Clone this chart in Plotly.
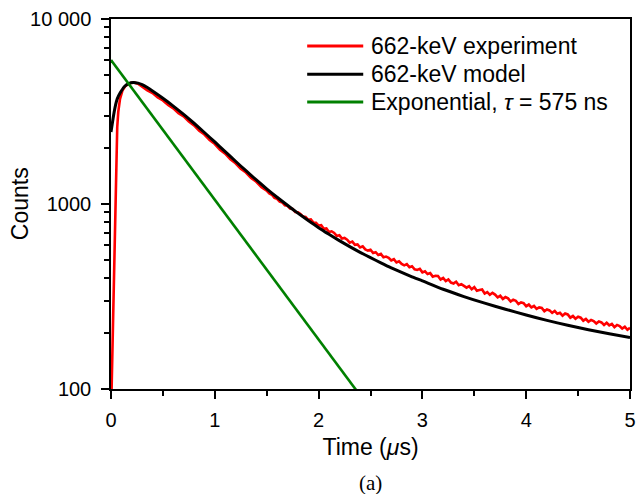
import numpy as np
import plotly.graph_objects as go

# --- measured decay (662-keV experiment) ---
# rise and early decay, irregular sampling
exp_time_head = [0.005, 0.010, 0.015, 0.022, 0.030, 0.040, 0.048, 0.055, 0.060, 0.070,
                 0.087, 0.110, 0.140, 0.180, 0.220, 0.260,
                 0.30, 0.35, 0.40, 0.45, 0.50, 0.55, 0.60, 0.65, 0.70, 0.75,
                 0.80, 0.85, 0.90, 0.95, 1.00, 1.05, 1.10, 1.15, 1.20, 1.25,
                 1.30, 1.35, 1.40, 1.45, 1.50]
exp_counts_head = [95, 130, 180, 300, 500, 900, 1700, 2200, 2600, 3150,
                   3700, 4100, 4350, 4490, 4540, 4470,
                   4300, 4110, 3975, 3770, 3630, 3430, 3290, 3100, 2975, 2790,
                   2660, 2490, 2375, 2215, 2110, 1965, 1872, 1745, 1660, 1550,
                   1480, 1382, 1318, 1232, 1182]
# tail, one bin every 25 ns from 1.525 us to 5 us
exp_time_tail = [round(1.5 + 0.025 * k, 3) for k in range(1, 141)]
exp_counts_tail = [1140, 1122, 1080, 1066, 1030, 1020, 985, 978, 944, 940,
                   906, 903, 884, 855, 852, 822, 826, 793, 791, 764,
                   768, 735, 738, 706, 712, 697, 672, 678, 650, 655,
                   641, 618, 626, 602, 605, 582, 590, 568, 560, 566,
                   543, 549, 530, 537, 515, 520, 512, 496, 503, 483,
                   490, 474, 466, 473, 455, 461, 444, 440, 446, 427,
                   433, 418, 423, 405, 409, 408, 391, 398, 383, 391,
                   376, 372, 380, 364, 369, 361, 353, 360, 346, 355,
                   340, 343, 345, 328, 334, 323, 331, 324, 313, 319,
                   307, 314, 309, 297, 304, 300, 288, 294, 291, 280,
                   286, 276, 281, 271, 276, 274, 263, 269, 266, 258,
                   264, 255, 258, 249, 256, 253, 243, 248, 240, 246,
                   243, 234, 239, 231, 236, 233, 226, 232, 229, 222,
                   228, 221, 225, 216, 222, 219, 212, 217, 209, 214]
exp_time = exp_time_head + exp_time_tail
exp_counts = exp_counts_head + exp_counts_tail

# --- model curve (662-keV model) ---
model_time = [0.0, 0.02, 0.04, 0.06, 0.09, 0.13, 0.17, 0.215, 0.26, 0.30,
              0.35, 0.40, 0.50, 0.60, 0.70, 0.80, 0.90, 1.00, 1.10, 1.20,
              1.30, 1.40, 1.50, 1.60, 1.70, 1.80, 1.90, 2.00, 2.10, 2.20,
              2.30, 2.40, 2.50, 2.60, 2.70, 2.80, 2.90, 3.00, 3.20, 3.40,
              3.60, 3.80, 4.00, 4.20, 4.40, 4.60, 4.80, 5.00]
model_counts = [2450, 2900, 3350, 3700, 4000, 4320, 4480, 4540, 4500, 4420,
                4260, 4080, 3729, 3384, 3050, 2732, 2435, 2164, 1919, 1702,
                1513, 1349, 1208, 1088, 984, 893, 814, 745, 686, 634,
                588, 548, 513, 481, 452, 427, 404, 384, 346, 316,
                291, 270, 251, 235, 221, 209, 199, 190]

# --- single-exponential reference ---
tau_ns = 575
amplitude = 6000
fit_time = np.array([0.0, 2.5])
fit_counts = amplitude * np.exp(-fit_time * 1000 / tau_ns)

y_tickvals = [100, 1000, 10000]
y_ticktext = ["100", "1000", "10 000"]
y_minor = [200, 300, 400, 500, 600, 700, 800, 900,
           2000, 3000, 4000, 5000, 6000, 7000, 8000, 9000]
x_tickvals = [0, 1, 2, 3, 4, 5]
x_minor = [0.5, 1.5, 2.5, 3.5, 4.5]

series_names = ["662-keV experiment", "662-keV model", "Exponential, <i>τ</i> = 575 ns"]
series_colors = ["#ff0000", "#000000", "#008000"]

font_family = "Liberation Sans, Arial, sans-serif"

fig = go.Figure()
fig.add_trace(go.Scatter(x=exp_time, y=exp_counts, mode="lines",
                         line=dict(color=series_colors[0], width=2.6),
                         name=series_names[0]))
fig.add_trace(go.Scatter(x=model_time, y=model_counts, mode="lines",
                         line=dict(color=series_colors[1], width=3, shape="spline", smoothing=0.6),
                         name=series_names[1]))
fig.add_trace(go.Scatter(x=fit_time, y=fit_counts, mode="lines",
                         line=dict(color=series_colors[2], width=2.6),
                         name=series_names[2]))

# hand-built legend in the upper right
legend_rows = [0.927, 0.851, 0.776]
for name, color, yy in zip(series_names, series_colors, legend_rows):
    fig.add_shape(type="line", xref="paper", yref="paper",
                  x0=0.378, x1=0.486, y0=yy, y1=yy,
                  line=dict(color=color, width=3))
    fig.add_annotation(xref="paper", yref="paper", x=0.497, y=yy,
                       xanchor="left", yanchor="middle", showarrow=False,
                       text=name, font=dict(family=font_family, size=23, color="black"))

# y-axis title, placed close to the short tick labels
fig.add_annotation(xref="paper", yref="paper", x=-0.175, y=0.5,
                   xanchor="center", yanchor="middle", showarrow=False, textangle=-90,
                   text="Counts", font=dict(family=font_family, size=23, color="black"))

# panel label
fig.add_annotation(xref="paper", yref="paper", x=0.5, y=-0.254,
                   xanchor="center", yanchor="middle", showarrow=False,
                   text="(a)", font=dict(family="Liberation Serif, Times New Roman, serif",
                                         size=21, color="black"))

axis_common = dict(ticks="outside", ticklen=8, tickwidth=1.5, tickcolor="black",
                   showline=True, linecolor="black", linewidth=1.5, mirror=True,
                   showgrid=False, zeroline=False, automargin=False,
                   tickfont=dict(size=20))

fig.update_layout(
    width=636, height=494,
    margin=dict(l=111, r=6, t=19, b=105),
    plot_bgcolor="white", paper_bgcolor="white",
    showlegend=False,
    font=dict(family=font_family, size=20, color="black"),
    xaxis=dict(range=[0, 5], tickvals=x_tickvals, ticklabelstandoff=4,
               minor=dict(tickvals=x_minor, ticks="outside", ticklen=5,
                          tickwidth=1.5, tickcolor="black"),
               title=dict(text="Time (<i>μ</i>s)", font=dict(size=23), standoff=9),
               **axis_common),
    yaxis=dict(type="log", range=[2, 4], tickvals=y_tickvals, ticktext=y_ticktext,
               ticklabelstandoff=6,
               minor=dict(tickvals=y_minor, ticks="outside", ticklen=5,
                          tickwidth=1.5, tickcolor="black"),
               **axis_common),
)

fig.write_html("out.html")
